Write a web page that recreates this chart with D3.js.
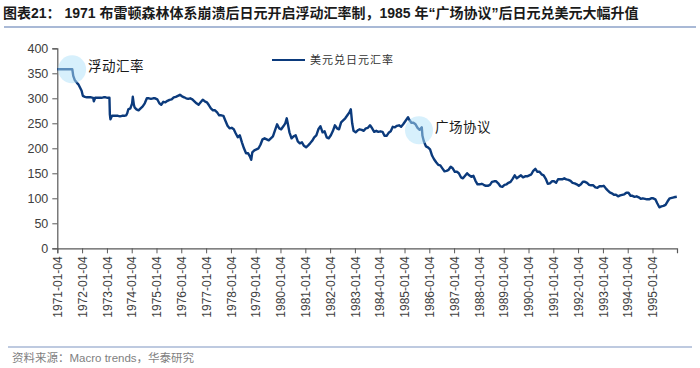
<!DOCTYPE html>
<html><head><meta charset="utf-8">
<script src="https://cdn.jsdelivr.net/npm/d3@7"></script>
<style>
body{margin:0;background:#fff;}
svg{display:block;}
</style></head>
<body><svg id="c" width="700" height="368"></svg>
<script>
const titleText = "图表21： 1971 布雷顿森林体系崩溃后日元开启浮动汇率制，1985 年“广场协议”后日元兑美元大幅升值";
const sourceText = "资料来源：Macro trends，华泰研究";
const seriesName = "美元兑日元汇率";
const yTicks = [0,50,100,150,200,250,300,350,400];
const xTickLabels = ["1971-01-04","1972-01-04","1973-01-04","1974-01-04","1975-01-04","1976-01-04","1977-01-04","1978-01-04","1979-01-04","1980-01-04","1981-01-04","1982-01-04","1983-01-04","1984-01-04","1985-01-04","1986-01-04","1987-01-04","1988-01-04","1989-01-04","1990-01-04","1991-01-04","1992-01-04","1993-01-04","1994-01-04","1995-01-04"];
const annotDates = ["1971-08-10","1985-08-05"];
const annotValues = [358,236];
const annotLabels = ["浮动汇率","广场协议"];

const dates = [
"1971-01-04","1971-02-15","1971-03-15","1971-04-15","1971-05-15","1971-06-15","1971-07-15","1971-08-13","1971-08-27","1971-09-20","1971-10-20","1971-11-10","1971-12-10","1971-12-28",
"1972-01-15","1972-02-15","1972-03-15","1972-04-15","1972-05-15","1972-06-15","1972-06-25","1972-07-15","1972-08-15","1972-09-15","1972-10-15","1972-11-15","1972-12-15",
"1973-01-15","1973-02-10","1973-02-16","1973-02-25","1973-03-10","1973-03-20","1973-04-15","1973-05-15","1973-06-15","1973-07-15","1973-08-15","1973-09-15","1973-10-15","1973-10-30","1973-11-15","1973-12-15",
"1974-01-10","1974-01-20","1974-02-05","1974-02-15","1974-03-15","1974-04-15","1974-05-15","1974-06-15","1974-07-15","1974-08-15","1974-09-15","1974-10-15","1974-11-15","1974-12-15",
"1975-01-15","1975-02-15","1975-03-15","1975-04-15","1975-05-15","1975-06-15","1975-07-15","1975-08-15","1975-09-15","1975-10-15","1975-11-15","1975-12-15",
"1976-01-15","1976-02-15","1976-03-15","1976-04-15","1976-05-15","1976-06-15","1976-07-15","1976-08-15","1976-09-15","1976-10-15","1976-11-15","1976-12-15",
"1977-01-15","1977-02-15","1977-03-15","1977-04-15","1977-05-15","1977-06-15","1977-07-15","1977-08-15","1977-09-15","1977-10-15","1977-11-15","1977-12-15",
"1978-01-15","1978-02-15","1978-03-15","1978-04-15","1978-05-15","1978-06-15","1978-07-15","1978-08-15","1978-09-15","1978-10-10","1978-10-30","1978-11-15","1978-12-15",
"1979-01-15","1979-02-15","1979-03-15","1979-04-15","1979-05-15","1979-06-15","1979-07-15","1979-08-15","1979-09-15","1979-10-15","1979-11-15","1979-12-15",
"1980-01-15","1980-02-15","1980-03-15","1980-04-05","1980-04-20","1980-05-15","1980-06-15","1980-07-15","1980-08-15","1980-09-15","1980-10-15","1980-11-15","1980-12-15",
"1981-01-15","1981-02-15","1981-03-15","1981-04-15","1981-05-15","1981-06-15","1981-07-15","1981-08-15","1981-09-15","1981-10-15","1981-11-15","1981-12-15",
"1982-01-15","1982-02-15","1982-03-15","1982-04-15","1982-05-15","1982-06-15","1982-07-15","1982-08-15","1982-09-15","1982-10-15","1982-11-05","1982-11-25","1982-12-15",
"1983-01-15","1983-02-15","1983-03-15","1983-04-15","1983-05-15","1983-06-15","1983-07-15","1983-08-15","1983-09-15","1983-10-15","1983-11-15","1983-12-15",
"1984-01-15","1984-02-15","1984-03-15","1984-04-15","1984-05-15","1984-06-15","1984-07-15","1984-08-15","1984-09-15","1984-10-15","1984-11-15","1984-12-15",
"1985-01-15","1985-02-25","1985-03-15","1985-04-15","1985-05-15","1985-06-15","1985-07-15","1985-08-15","1985-09-15","1985-09-25","1985-10-15","1985-11-15","1985-12-15",
"1986-01-15","1986-02-15","1986-03-15","1986-04-15","1986-05-15","1986-06-15","1986-07-15","1986-08-15","1986-09-15","1986-10-15","1986-11-15","1986-12-15",
"1987-01-15","1987-02-15","1987-03-15","1987-04-15","1987-05-15","1987-06-15","1987-07-15","1987-08-15","1987-09-15","1987-10-15","1987-11-15","1987-12-15",
"1988-01-15","1988-02-15","1988-03-15","1988-04-15","1988-05-15","1988-06-15","1988-07-15","1988-08-15","1988-09-15","1988-10-15","1988-11-15","1988-12-15",
"1989-01-15","1989-02-15","1989-03-15","1989-04-15","1989-05-15","1989-06-15","1989-07-15","1989-08-15","1989-09-15","1989-10-15","1989-11-15","1989-12-15",
"1990-01-15","1990-02-15","1990-03-15","1990-04-15","1990-05-15","1990-06-15","1990-07-15","1990-08-15","1990-09-15","1990-10-15","1990-11-15","1990-12-15",
"1991-01-15","1991-02-15","1991-03-15","1991-04-15","1991-05-15","1991-06-15","1991-07-15","1991-08-15","1991-09-15","1991-10-15","1991-11-15","1991-12-15",
"1992-01-15","1992-02-15","1992-03-15","1992-04-15","1992-05-15","1992-06-15","1992-07-15","1992-08-15","1992-09-15","1992-10-15","1992-11-15","1992-12-15",
"1993-01-15","1993-02-15","1993-03-15","1993-04-15","1993-05-15","1993-06-15","1993-07-15","1993-08-15","1993-09-15","1993-10-15","1993-11-15","1993-12-15",
"1994-01-15","1994-02-15","1994-03-15","1994-04-15","1994-05-15","1994-06-15","1994-07-15","1994-08-15","1994-09-15","1994-10-15","1994-11-15","1994-12-15",
"1995-01-15","1995-02-15","1995-03-15","1995-04-15","1995-05-15","1995-06-15","1995-07-15","1995-08-15","1995-09-15","1995-10-15","1995-11-15","1995-12-28"
];
const rates = [
358,358,358,358,358,358,358,358,345,336,331,328,320,315,
305,303,302,302,302,301,294,301,301,301,301,302,302,
301,301,268,258,262,265,265,265,265,264,265,265,266,270,278,280,
290,303,287,282,278,276,280,284,290,300,300,299,300,300,
298,290,287,293,292,295,297,298,302,303,305,307,
304,302,300,299,300,298,294,290,287,292,297,294,
292,286,280,276,276,272,266,266,265,255,245,240,
241,238,230,222,226,212,200,190,190,184,177,192,196,
198,200,207,218,220,218,216,220,224,236,248,240,
238,244,250,260,250,232,220,224,226,214,210,212,205,
202,206,210,215,222,226,238,244,232,234,222,220,
226,235,246,240,238,252,256,260,266,272,278,250,235,
232,236,238,237,235,240,241,246,240,233,235,233,
234,233,225,225,231,234,243,242,245,246,243,248,
254,262,257,251,251,248,241,237,242,225,214,204,202,
198,185,178,172,167,166,160,154,155,157,163,160,
153,153,150,142,140,145,150,146,143,145,135,128,
128,129,127,125,125,127,133,134,134,130,124,123,
127,128,131,133,139,146,140,143,146,142,144,144,
146,148,155,159,153,153,148,146,139,129,130,134,
134,131,138,138,138,140,138,137,135,131,130,128,
125,128,133,133,131,127,126,126,122,121,124,124,
125,120,116,112,110,107,107,104,106,107,108,111,
111,105,105,103,104,102,99,100,99,98,98,100,
100,98,90,82,84,85,87,94,100,101,102,103
];

(function(){
const parse = d3.timeParse("%Y-%m-%d");
const data = dates.map((d,i)=>({date:parse(d), v:rates[i]}));

const svg = d3.select("#c");
const mL = 57.3, mR = 677, mT = 48.3, mB = 248.3;
const x = d3.scaleTime().domain([parse("1971-01-04"), parse("1995-12-31")]).range([mL, mR]);
const y = d3.scaleLinear().domain([0,400]).range([mB, mT]);

const navy = "#0b3a7c";
const latin = "'Liberation Sans', Arial, 'Noto Sans CJK SC', sans-serif";
const cjk = "'Noto Sans CJK SC', sans-serif";

svg.append("text").attr("x",3).attr("y",18)
  .attr("font-family", latin).attr("font-weight","bold").attr("font-size",14)
  .attr("fill","#1a1a1a").text(titleText);
svg.append("line").attr("x1",4).attr("x2",696).attr("y1",27).attr("y2",27)
  .attr("stroke","#a9b9d6").attr("stroke-width",2);

svg.append("line").attr("x1",8).attr("x2",692).attr("y1",347).attr("y2",347)
  .attr("stroke","#a9b9d6").attr("stroke-width",1.5);
svg.append("text").attr("x",12).attr("y",362)
  .attr("font-family", latin).attr("font-size",11.5)
  .attr("fill","#7f7f7f").text(sourceText);

const yAxis = d3.axisLeft(y).tickValues(yTicks).tickSize(5).tickPadding(4);
const gy = svg.append("g").attr("transform",`translate(${mL},0)`).call(yAxis);
gy.select(".domain").attr("stroke","#595959").attr("stroke-width",1.2);
gy.selectAll(".tick line").attr("stroke","#595959");
gy.selectAll(".tick text").attr("font-family",latin).attr("font-size",12.5).attr("fill","#404040");

const tickDates = xTickLabels.map(s=>parse(s));
const xAxis = d3.axisBottom(x).tickValues(tickDates).tickSize(5)
  .tickFormat((d,i)=>xTickLabels[i]);
const gx = svg.append("g").attr("transform",`translate(0,${mB})`).call(xAxis);
gx.select(".domain").attr("stroke","#595959").attr("stroke-width",1.2);
gx.selectAll(".tick line").attr("stroke","#595959");
gx.selectAll(".tick text")
  .attr("font-family",latin).attr("font-size",12).attr("fill","#404040")
  .attr("transform","rotate(-90)")
  .attr("text-anchor","end")
  .attr("x",-8).attr("y",0).attr("dy","0.35em");

const line = d3.line().x(d=>x(d.date)).y(d=>y(d.v)).curve(d3.curveLinear);
svg.append("path").datum(data).attr("d",line)
  .attr("fill","none").attr("stroke",navy).attr("stroke-width",2.4)
  .attr("stroke-linejoin","round");

annotDates.forEach((d,i)=>{
  const cx = x(parse(d)), cy = y(annotValues[i]);
  svg.append("circle").attr("cx",cx).attr("cy",cy).attr("r",14)
    .attr("fill","rgb(175,225,249)").attr("fill-opacity",0.5);
  svg.append("text").attr("x",cx+16).attr("y",cy-2)
    .attr("font-family",cjk).attr("font-size",13.5).attr("fill","#1a1a1a")
    .attr("letter-spacing",0.5).attr("dominant-baseline","middle")
    .text(annotLabels[i]);
});

svg.append("line").attr("x1",272).attr("x2",305).attr("y1",60).attr("y2",60)
  .attr("stroke",navy).attr("stroke-width",2.2);
svg.append("text").attr("x",310).attr("y",64)
  .attr("font-family",cjk).attr("font-size",11).attr("letter-spacing",1)
  .attr("fill","#333").text(seriesName);
})();
</script></body></html>
